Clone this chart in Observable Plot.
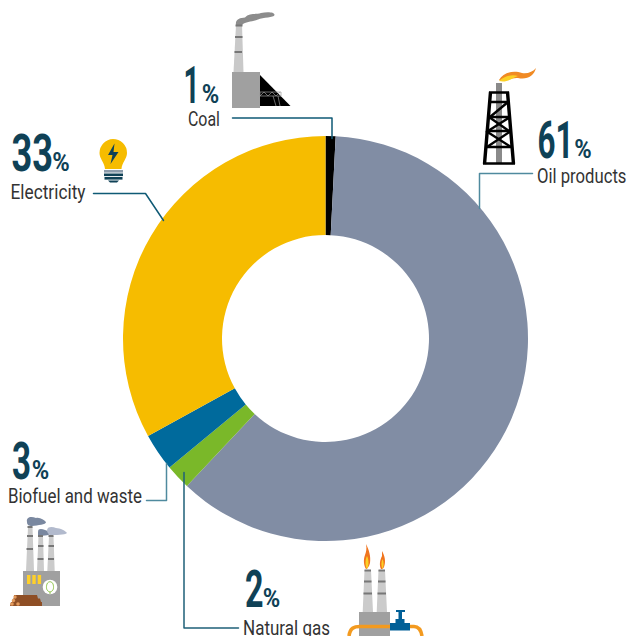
<!DOCTYPE html>
<html><head><meta charset="utf-8">
<script src="https://cdn.jsdelivr.net/npm/d3@7"></script>
<script src="https://cdn.jsdelivr.net/npm/@observablehq/plot@0.6"></script>
<style>html,body{margin:0;padding:0;background:#fff}svg{display:block}</style>
</head><body><div id="chart"></div>
<script>
// Data, clockwise from 12 o'clock
const sources = ["Coal","Oil products","Natural gas","Biofuel and waste","Electricity"];
const shares  = [0.8,61.2,2,3,33];
const labels  = ["1","61","2","3","33"];
const colors  = ["#000000","#818DA4","#7AB829","#006A9C","#F6BC00"];

// Layout (pixels)
const W=627,H=636,CX=325.5,CY=338.5,R=202.5,R0=103.5;
const labelPos = [[187.5,125.5],[536.5,182],[242.5,634],[7.5,502.5],[10,198.5]];
const labelLen = [32,89.5,87,134,75];
const numPos   = [[183,102],[537,157],[244.5,606],[11.5,478],[11,170]];
const numLen   = [16,36,18.5,19,41.5];
const pctPos   = [[201.3,102],[573.8,157],[262.3,606],[31.3,478],[51.8,170]];
const pctLen   = 17.5;
const leaderPaths = [
 [[232,117.5],[331.5,117.5],[331.5,138]],
 [[532,173],[479,173],[479,208]],
 [[183.5,472],[183.5,627.5],[238,627.5]],
 [[146,500],[166,500],[166,463]],
 [[93,193],[145,193],[163,220]]
];
const leaderColor=["#0F5A75","#4F8A9E","#1F6078","#4F8A9E","#0F5A75"];

const pieGen=d3.pie().value(d=>d.share).sort(null);
const arcGen=d3.arc().innerRadius(R0).outerRadius(R);
const table=sources.map((s,i)=>({source:s,share:shares[i],label:labels[i],color:colors[i],i}));

function donut(index,{x,y}){
  const g=d3.create("svg:g").attr("transform",`translate(${x(CX)},${y(CY)})`);
  g.selectAll("path").data(pieGen(table)).join("path").attr("d",arcGen).attr("fill",d=>d.data.color);
  return g.node();
}
const leaders=leaderPaths.flatMap((p,i)=>p.map(q=>({px:q[0],py:q[1],i})));

const icons=`
<!-- coal plant -->
<path d="M236 25C235 19 240 18 245 17.5C249 13 256 14.5 261 13C267 11.5 275 12 274.5 15C274 18 263 17 258 19.5C252 22 246 21 242 25Z" fill="#8C8C8C"/>
<path d="M236 25H242L243.5 72H233.5Z" fill="#C9C9C9"/>
<rect x="235.5" y="24.5" width="7" height="2" fill="#777"/><rect x="235" y="36" width="7.5" height="2" fill="#777"/><rect x="234.5" y="51" width="7.5" height="2" fill="#777"/>
<rect x="232" y="72" width="28" height="36" fill="#A0A0A0"/>
<path d="M260 75L290.5 106H260Z" fill="#000"/>
<path d="M260 92H281V96H260ZM260 96L264 92L268 96L272 92L276 96L280 92M273 96L276 106M278 96L280 106" fill="none" stroke="#999" stroke-width=".7"/>
<!-- derrick -->
<rect x="496" y="83" width="6" height="81" fill="#8A8A8A"/>
<g stroke="#000" fill="none" stroke-width="2.4">
<path d="M490.5 92L484.5 164M507.5 92L513.5 164" stroke-width="3.4"/>
<path d="M489 92.5H509M490 102H508M488.5 117H509.5M487 131H511M485.5 147H512.5M483 163.5H515" />
<path d="M490 117L508 102M488 131L510 117M487 147L511 131M486 131L511 147M489 117L509 131"/>
</g>
<path d="M499 80C503 72 514 70 522 73C527 74 533 72 536 68C534 76 527 80 518 78C512 77 503 83 499 80Z" fill="#F08A24"/>
<path d="M499 81C504 76 512 74 518 76C512 78 507 83 499 81Z" fill="#FBD025"/>
<!-- bulb -->
<path d="M113 139A14 14 0 0 1 127 153C127 159 122 162 121.5 169H105C104.5 162 99.5 159 99.5 153A14 14 0 0 1 113 139Z" fill="#F6BC00"/>
<path d="M114.5 143.5L108 155H112.5L110.5 164L118.5 152H113.5Z" fill="#0F4156"/>
<rect x="104" y="170" width="19" height="2.6" fill="#8A9AAA"/><rect x="104" y="173.5" width="19" height="2.6" fill="#0F4156"/><rect x="104.5" y="177" width="18" height="2.6" fill="#0F4156"/><path d="M108 180.5H119L117 182.5H110Z" fill="#0F4156"/>
<!-- biofuel plant -->
<path d="M27 522C26 517 31 516 36 518C40 517 44 520 46 522C46 525 38 525 32 526C29 526 27 525 27 522Z" fill="#7A88A0"/>
<path d="M38 532C38 528 42 529 45 530C48 531 50 532 50 534C48 536 40 536 38 535Z" fill="#7A88A0"/>
<path d="M47 530C48 526 53 527 56 528C60 528 66 531 67 533C65 535 55 535 50 535C48 534 47 532 47 530Z" fill="#B2BACD"/>
<path d="M28 527H32.5L34 571H26ZM38.5 536H43L44 571H37ZM49 536H53.5L54.7 571H47.3Z" fill="#CBCBCB"/>
<g fill="#777"><rect x="27.5" y="526" width="5" height="2"/><rect x="27" y="535" width="6" height="2"/><rect x="26.5" y="548" width="6.5" height="2"/>
<rect x="38" y="535" width="5" height="2"/><rect x="38" y="545" width="5.5" height="2"/><rect x="37.5" y="558" width="6" height="2"/>
<rect x="48.5" y="535" width="5" height="2"/><rect x="48.5" y="545" width="5.5" height="2"/><rect x="48" y="558" width="6" height="2"/></g>
<rect x="23" y="571" width="37" height="35" fill="#A0A0A0"/>
<g fill="#FFD02A"><rect x="27" y="575" width="3.4" height="9"/><rect x="32.3" y="575" width="3.4" height="9"/><rect x="37.7" y="575" width="3.4" height="9"/></g>
<circle cx="50" cy="587" r="7.3" fill="#fff"/>
<path d="M50 592C46 591 46 587 47 584C48 581 52 581 53 584C54 587 54 591 50 592V594" fill="none" stroke="#7AB829" stroke-width=".8"/>
<path d="M14 595H37L38 598.5H14ZM13 598.5H40L41 602H12ZM11 602H42V606H10Z" fill="#8E4E25"/>
<g fill="#E39A5C"><circle cx="15" cy="597" r="1.7"/><circle cx="13.5" cy="600.5" r="1.7"/><circle cx="12" cy="604" r="1.8"/><circle cx="18" cy="604" r="1.8"/></g>
<!-- gas plant -->
<path d="M364.5 570H371L373 612H362.7ZM378.5 570H385L387 612H376.7Z" fill="#CBCBCB"/>
<g fill="#777"><rect x="364.5" y="569.5" width="6.5" height="2"/><rect x="364" y="580.5" width="7.5" height="2"/><rect x="363.5" y="592.5" width="8.5" height="2"/>
<rect x="378.5" y="569.5" width="6.5" height="2"/><rect x="378" y="580.5" width="7.5" height="2"/><rect x="377.5" y="592.5" width="8.5" height="2"/></g>
<rect x="359" y="612" width="31" height="24" fill="#A0A0A0"/>
<path d="M349 636C350 628 354 626.5 360 626.5H392M408 626.5H414C419 626.5 421 630 422 636" fill="none" stroke="#F39A1F" stroke-width="3.6"/>
<path d="M390 623H410V630.5H390ZM395.5 619H404.5V623H395.5ZM398.5 612H402V619H398.5ZM396 610H405V612H396Z" fill="#005F97"/>
<path d="M366 544C369 550 371 556 370 563C369 567 367 569 366 569C364 566 363 560 365 555C366 552 367 549 366 544Z" fill="#F0751F"/>
<path d="M367 556C369 560 369 566 367 569C365 566 365 560 367 556Z" fill="#FBD025"/>
<path d="M382 551C385 556 386 562 384 567C383 569 382 569 381 569C379 565 380 560 382 556Z" fill="#F0751F"/>
<path d="M382.5 559C384 562 384 566 382.5 569C381 566 381 562 382.5 559Z" fill="#FBD025"/>`;

function iconMark(){return d3.create("svg:g").html(icons).node();}

// Squeezes each text horizontally to the width measured in the picture (no condensed face is installed)
const measure=document.createElement("canvas").getContext("2d");
const fit=(len,fontSpec)=>(index,scales,values,dims,ctx,next)=>{
  const g=next(index,scales,values,dims,ctx);
  measure.font=fontSpec;
  d3.select(g).selectAll("text").each(function(){
    const i=d3.select(this).datum();
    const target=typeof len==="number"?len:len[i];
    const natural=measure.measureText(this.textContent).width;
    this.setAttribute("transform",`${this.getAttribute("transform")||""} scale(${target/natural},1)`);
  });
  return g;
};

const font='Roboto,sans-serif';
const chart=Plot.plot({
  width:W,height:H,margin:0,style:{background:"#fff"},
  x:{domain:[0,W],range:[0,W],axis:null},
  y:{domain:[0,H],range:[0,H],axis:null},
  marks:[
    donut,
    Plot.line(leaders,{x:"px",y:"py",z:"i",stroke:d=>leaderColor[d.i],strokeWidth:1.5,curve:"linear"}),
    iconMark,
    Plot.text(table,{x:d=>numPos[d.i][0],y:d=>numPos[d.i][1],text:"label",textAnchor:"start",lineAnchor:"bottom",fontFamily:font,fontWeight:700,fontSize:51,fill:"#0F4156",render:fit(numLen,"700 51px Roboto")}),
    Plot.text(table,{x:d=>pctPos[d.i][0],y:d=>pctPos[d.i][1],text:()=>"%",textAnchor:"start",lineAnchor:"bottom",fontFamily:font,fontWeight:700,fontSize:25,fill:"#0F4156",render:fit(pctLen,"700 25px Roboto")}),
    Plot.text(table,{x:d=>labelPos[d.i][0],y:d=>labelPos[d.i][1],text:"source",textAnchor:"start",lineAnchor:"bottom",fontFamily:font,fontWeight:400,fontSize:21,fill:"#333333",render:fit(labelLen,"400 21px Roboto")})
  ]
});
document.getElementById("chart").appendChild(chart);
</script></body></html>
